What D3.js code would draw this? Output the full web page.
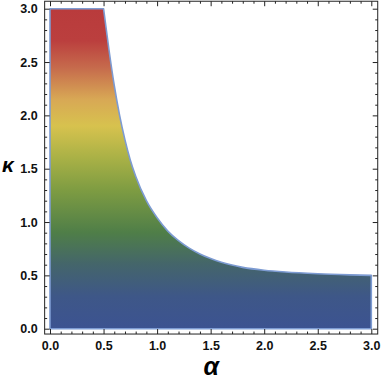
<!DOCTYPE html>
<html>
<head>
<meta charset="utf-8">
<script src="https://cdn.jsdelivr.net/npm/d3@7"></script>
<style>
  html, body { margin: 0; padding: 0; background: #fff; }
  svg text { font-family: "Liberation Sans", Arial, sans-serif; }
</style>
</head>
<body>
<div id="chart"></div>
<script>
// boundary of the region
const alphaVals = [0, 0.5, 0.55, 0.6, 0.65, 0.7, 0.75, 0.8, 0.9, 1.0, 1.1, 1.2, 1.3, 1.4, 1.5, 1.6, 1.8, 2.0, 2.2, 2.5, 2.8, 3.0]
const kappaVals = [3.0, 3.0, 2.62, 2.28, 2.0, 1.77, 1.58, 1.43, 1.2, 1.04, 0.915, 0.825, 0.755, 0.70, 0.657, 0.622, 0.575, 0.548, 0.531, 0.515, 0.505, 0.5]

const majorTicks = [0, 0.5, 1.0, 1.5, 2.0, 2.5, 3.0]
const tickLabels = ["0.0", "0.5", "1.0", "1.5", "2.0", "2.5", "3.0"]

// colour scheme along kappa (DarkRainbow-like)
const colorStops = [0, 0.3, 0.6, 0.9, 1.3, 1.6, 1.9, 2.15, 2.45, 2.7, 3.0]
const colorVals = ["#3c5391", "#3e5788", "#44656b", "#4f7e48", "#7e9c42", "#a9b146",
    "#d7c24e", "#d8a855", "#c66a4c", "#bb3f3e", "#b93b3c"]

var width = 382
var height = 379

const svg = d3.select("#chart")
    .append("svg")
    .attr("width", width)
    .attr("height", height)

var xScale = d3.scaleLinear().domain([0, 3]).range([50, 371.3])
var yScale = d3.scaleLinear().domain([0, 3]).range([328.7, 8.7])

var minorTicks = d3.range(0, 31).map(i => i / 10).filter(v => Math.round(v * 10) % 5 !== 0)

// gradient by kappa
var grad = svg.append("defs").append("linearGradient")
    .attr("id", "kgrad")
    .attr("gradientUnits", "userSpaceOnUse")
    .attr("x1", 0).attr("x2", 0)
    .attr("y1", yScale(0)).attr("y2", yScale(3))
grad.selectAll("stop")
    .data(colorStops)
    .enter().append("stop")
    .attr("offset", d => d / 3)
    .attr("stop-color", (d, i) => colorVals[i])

// region: left edge, flat top, then the curve down to kappa = 0.5
var pts = alphaVals.map((a, i) => [xScale(a), yScale(kappaVals[i])])
var curvePath = d3.line().curve(d3.curveMonotoneX)(pts.slice(1))
var regionPath = "M" + xScale(0) + "," + yScale(0) +
    "L" + xScale(0) + "," + yScale(3) +
    curvePath.replace(/^M/, "L") +
    "L" + xScale(3) + "," + yScale(0) + "Z"

svg.append("path")
    .attr("d", regionPath)
    .attr("fill", "url(#kgrad)")
    .attr("stroke", "#7d9bd2")
    .attr("stroke-width", 1.6)
    .attr("stroke-linejoin", "round")

// frame
var fx0 = xScale(-0.05), fx1 = xScale(3.06)
var fy0 = yScale(-0.05), fy1 = yScale(3.07)

function styleAxis(g) {
    g.select(".domain").remove()
    g.selectAll("line").attr("stroke", "#222").attr("stroke-width", 1)
}

// bottom
var bottomMinor = d3.axisBottom(xScale).tickValues(minorTicks).tickSize(-2.5).tickFormat("")
svg.append("g").attr("transform", "translate(0," + fy0 + ")").call(bottomMinor).call(styleAxis)
var bottomMajor = d3.axisBottom(xScale).tickValues(majorTicks).tickSize(-5)
    .tickFormat((d, i) => tickLabels[i])
var gb = svg.append("g").attr("transform", "translate(0," + fy0 + ")").call(bottomMajor).call(styleAxis)
gb.selectAll("text")
    .attr("y", 16).attr("dy", 0)
    .attr("fill", "#111")
    .style("font-size", "12.5px").style("font-weight", "bold")
    .style("font-family", "'Liberation Sans', Arial, sans-serif")

// top
svg.append("g").attr("transform", "translate(0," + fy1 + ")")
    .call(d3.axisTop(xScale).tickValues(minorTicks).tickSize(-2.5).tickFormat("")).call(styleAxis)
svg.append("g").attr("transform", "translate(0," + fy1 + ")")
    .call(d3.axisTop(xScale).tickValues(majorTicks).tickSize(-5).tickFormat("")).call(styleAxis)

// left
svg.append("g").attr("transform", "translate(" + fx0 + ",0)")
    .call(d3.axisLeft(yScale).tickValues(minorTicks).tickSize(-2.5).tickFormat("")).call(styleAxis)
var gl = svg.append("g").attr("transform", "translate(" + fx0 + ",0)")
    .call(d3.axisLeft(yScale).tickValues(majorTicks).tickSize(-5).tickPadding(7)
        .tickFormat((d, i) => tickLabels[i]))
    .call(styleAxis)
gl.selectAll("text")
    .attr("fill", "#111")
    .style("font-size", "12.5px").style("font-weight", "bold")
    .style("font-family", "'Liberation Sans', Arial, sans-serif")

// right
svg.append("g").attr("transform", "translate(" + fx1 + ",0)")
    .call(d3.axisRight(yScale).tickValues(minorTicks).tickSize(-2.5).tickFormat("")).call(styleAxis)
svg.append("g").attr("transform", "translate(" + fx1 + ",0)")
    .call(d3.axisRight(yScale).tickValues(majorTicks).tickSize(-5).tickFormat("")).call(styleAxis)

svg.append("rect")
    .attr("x", fx0).attr("y", fy1)
    .attr("width", fx1 - fx0).attr("height", fy0 - fy1)
    .attr("fill", "none")
    .attr("stroke", "#222")
    .attr("stroke-width", 1)

// axis titles
svg.append("text")
    .attr("x", (fx0 + fx1) / 2)
    .attr("y", 375)
    .attr("text-anchor", "middle")
    .style("font-size", "25px")
    .style("font-weight", "bold")
    .style("font-style", "italic")
    .text("α")

svg.append("text")
    .attr("x", 8)
    .attr("y", 172)
    .attr("text-anchor", "middle")
    .style("font-size", "21px")
    .style("font-weight", "bold")
    .style("font-style", "italic")
    .text("κ")
</script>
</body>
</html>
